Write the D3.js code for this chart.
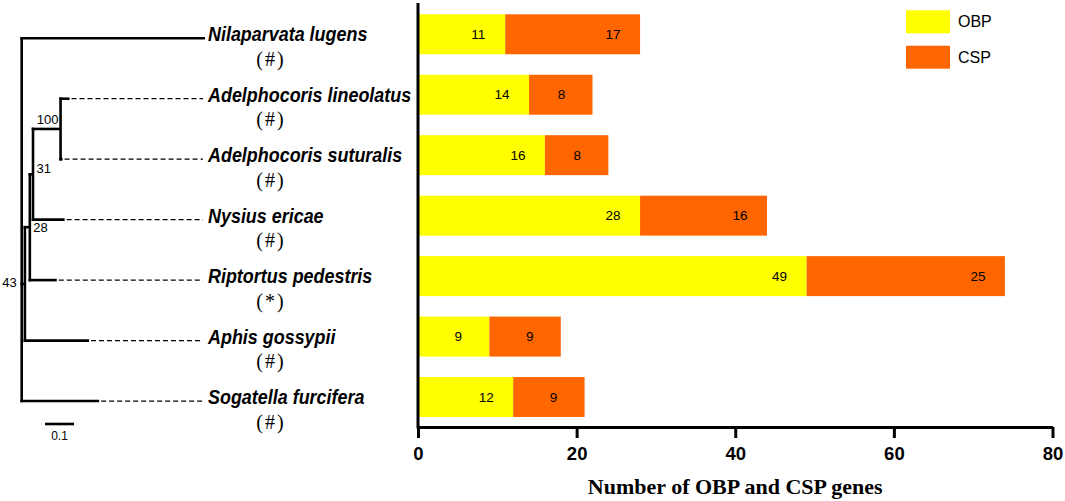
<!DOCTYPE html>
<html>
<head>
<meta charset="utf-8">
<script src="https://cdn.jsdelivr.net/npm/d3@7"></script>
<style>
  body { margin: 0; background: #fff; }
  svg { display: block; }
</style>
</head>
<body>
<div id="chart"></div>
<script>
// species top to bottom, with the mark shown under each name
var species = ["Nilaparvata lugens", "Adelphocoris lineolatus", "Adelphocoris suturalis",
  "Nysius ericae", "Riptortus pedestris", "Aphis gossypii", "Sogatella furcifera"];
var speciesMarks = ["#", "#", "#", "#", "*", "#", "#"];

// gene counts
var obpCounts = [11, 14, 16, 28, 49, 9, 12];
var cspCounts = [17, 8, 8, 16, 25, 9, 9];
var seriesNames = ["OBP", "CSP"];
var xTicks = [0, 20, 40, 60, 80];

// tree: parent links, branch lengths, bootstrap support
var treeIds = ["root", "Nilaparvata lugens", "n43", "Aphis gossypii", "n28", "Riptortus pedestris",
  "n31", "Nysius ericae", "n100", "Adelphocoris lineolatus", "Adelphocoris suturalis", "Sogatella furcifera"];
var treeParents = ["", "root", "root", "n43", "n43", "n28", "n28", "n31", "n31", "n100", "n100", "root"];
var branchLengths = [0, 0.632, 0.011, 0.221, 0.017, 0.093, 0.011, 0.109, 0.095, 0.031, 0.007, 0.267];
var supportValues = [null, null, 43, null, 28, null, 31, null, 100, null, null, null];

var svgWidth = 1065;
var svgHeight = 501;

var svg = d3.select("#chart")
  .append("svg")
  .attr("width", svgWidth)
  .attr("height", svgHeight);

var colors = d3.scaleOrdinal()
  .domain(seriesNames)
  .range(["#ffff00", "#ff6600"]);

// scales
var xScale = d3.scaleLinear()
  .domain([0, 80])
  .range([418, 1052.5]);

var yScale = d3.scaleBand()
  .domain(species)
  .range([4, 427.3])
  .paddingInner(0.339)
  .paddingOuter(0.17);

var treeX = d3.scaleLinear()
  .domain([0, 1])
  .range([21.7, 311.7]);

// stacked bars
var rows = species.map(function(s, i) {
  return { species: s, OBP: obpCounts[i], CSP: cspCounts[i] };
});
var stacked = d3.stack().keys(seriesNames)(rows);

var layers = svg.selectAll(".layer")
  .data(stacked)
  .enter()
  .append("g")
  .attr("class", "layer")
  .attr("fill", function(d) { return colors(d.key); });

layers.selectAll("rect")
  .data(function(d) { return d; })
  .enter()
  .append("rect")
  .attr("x", function(d) { return xScale(d[0]); })
  .attr("y", function(d) { return yScale(d.data.species); })
  .attr("width", function(d) { return xScale(d[1]) - xScale(d[0]); })
  .attr("height", yScale.bandwidth());

layers.selectAll("text")
  .data(function(d) { return d; })
  .enter()
  .append("text")
  .attr("x", function(d) {
    var v = d[1] - d[0];
    return xScale(d[1]) - (v < 10 ? 31 : 27);
  })
  .attr("y", function(d) { return yScale(d.data.species) + yScale.bandwidth() / 2; })
  .attr("dy", "0.35em")
  .attr("text-anchor", "middle")
  .attr("fill", "#000")
  .style("font-family", "Liberation Sans, Arial, sans-serif")
  .style("font-size", "13.5px")
  .text(function(d) { return d[1] - d[0]; });

// axes
var bottomAxis = d3.axisBottom(xScale)
  .tickValues(xTicks)
  .tickSize(11)
  .tickPadding(9)
  .tickSizeOuter(0);

var xAxisG = svg.append("g")
  .attr("transform", "translate(0, 427)")
  .call(bottomAxis);

xAxisG.select(".domain").attr("stroke-width", 3).attr("stroke", "#000");
xAxisG.selectAll(".tick line").attr("stroke-width", 3).attr("stroke", "#000");
xAxisG.selectAll(".tick text")
  .attr("fill", "#000")
  .style("font-family", "Liberation Sans, Arial, sans-serif")
  .style("font-weight", "bold")
  .style("font-size", "18.5px");

svg.append("line")
  .attr("x1", xScale(0)).attr("x2", xScale(0))
  .attr("y1", 3).attr("y2", 428.5)
  .attr("stroke", "#000")
  .attr("stroke-width", 3);

svg.append("text")
  .attr("x", (xScale(0) + xScale(80)) / 2)
  .attr("y", 494)
  .attr("text-anchor", "middle")
  .style("font-family", "Liberation Serif, Times New Roman, serif")
  .style("font-weight", "bold")
  .style("font-size", "22px")
  .text("Number of OBP and CSP genes");

// legend
var legend = svg.selectAll(".legend")
  .data(seriesNames)
  .enter()
  .append("g")
  .attr("class", "legend")
  .attr("transform", function(d, i) { return "translate(906, " + (10.3 + i * 35.4) + ")"; });

legend.append("rect")
  .attr("width", 44)
  .attr("height", 23)
  .attr("fill", function(d) { return colors(d); });

legend.append("text")
  .attr("x", 52)
  .attr("y", 11.5)
  .attr("dy", "0.35em")
  .style("font-family", "Liberation Sans, Arial, sans-serif")
  .style("font-size", "16px")
  .text(function(d) { return d; });

// tree
var root = d3.stratify()
  .id(function(d) { return d.id; })
  .parentId(function(d) { return d.parent || null; })(
    treeIds.map(function(id, i) {
      return { id: id, parent: treeParents[i], len: branchLengths[i], support: supportValues[i] };
    })
  );

root.eachBefore(function(n) {
  n.depthLen = (n.parent ? n.parent.depthLen : 0) + n.data.len;
  n.px = treeX(n.depthLen);
});
root.eachAfter(function(n) {
  if (!n.children) {
    n.py = yScale(n.id) + yScale.bandwidth() / 2 + 4;
  } else {
    var ys = n.children.map(function(c) { return c.py; });
    n.py = (d3.min(ys) + d3.max(ys)) / 2;
  }
});

var treeG = svg.append("g")
  .attr("stroke", "#000")
  .attr("stroke-width", 2.6)
  .attr("fill", "none");

// horizontal branches
treeG.selectAll(".hbranch")
  .data(root.descendants().filter(function(n) { return n.parent; }))
  .enter()
  .append("line")
  .attr("class", "hbranch")
  .attr("x1", function(n) { return n.parent.px - 1.3; })
  .attr("x2", function(n) { return n.px; })
  .attr("y1", function(n) { return n.py; })
  .attr("y2", function(n) { return n.py; });

// vertical connectors
treeG.selectAll(".vbranch")
  .data(root.descendants().filter(function(n) { return n.children; }))
  .enter()
  .append("line")
  .attr("class", "vbranch")
  .attr("x1", function(n) { return n.px; })
  .attr("x2", function(n) { return n.px; })
  .attr("y1", function(n) { return d3.min(n.children, function(c) { return c.py; }) - 1.3; })
  .attr("y2", function(n) { return d3.max(n.children, function(c) { return c.py; }) + 1.3; });

// dashed leaders to the names
var leaves = root.leaves();
svg.selectAll(".leader")
  .data(leaves.filter(function(n) { return n.px < 200; }))
  .enter()
  .append("line")
  .attr("class", "leader")
  .attr("x1", function(n) { return n.px + 2; })
  .attr("x2", 203)
  .attr("y1", function(n) { return n.py; })
  .attr("y2", function(n) { return n.py; })
  .attr("stroke", "#000")
  .attr("stroke-width", 1.3)
  .attr("stroke-dasharray", "5,3");

// support values
svg.selectAll(".support")
  .data(root.descendants().filter(function(n) { return n.data.support != null; }))
  .enter()
  .append("text")
  .attr("class", "support")
  .attr("x", function(n) {
    if (n.id === "n100") return n.px - 2;
    if (n.id === "n43") return n.parent.px - 5;
    return n.px + 3.5;
  })
  .attr("y", function(n) {
    if (n.id === "n100") return n.py - 5;
    if (n.id === "n43") return n.py + 3.5;
    if (n.id === "n28") return n.py + 4.5;
    return n.py - 1.5;
  })
  .attr("text-anchor", function(n) { return (n.id === "n100" || n.id === "n43") ? "end" : "start"; })
  .style("font-family", "Liberation Sans, Arial, sans-serif")
  .style("font-size", "13px")
  .text(function(n) { return n.data.support; });

// species names and marks
var labels = svg.selectAll(".species")
  .data(species)
  .enter()
  .append("g")
  .attr("class", "species");

labels.append("text")
  .attr("transform", function(d) {
    return "translate(208," + (yScale(d) + yScale.bandwidth() / 2 + 7) + ") scale(0.92,1)";
  })
  .style("font-family", "Liberation Sans, Arial, sans-serif")
  .style("font-weight", "bold")
  .style("font-style", "italic")
  .style("font-size", "19.5px")
  .text(function(d) { return d; });

labels.append("text")
  .attr("x", 271)
  .attr("y", function(d) { return yScale(d) + yScale.bandwidth() / 2 + 31.5; })
  .attr("text-anchor", "middle")
  .style("letter-spacing", "2px")
  .style("font-family", "Liberation Serif, Times New Roman, serif")
  .style("font-size", "20px")
  .text(function(d, i) { return "(" + speciesMarks[i] + ")"; });

// scale bar
svg.append("line")
  .attr("x1", 45)
  .attr("x2", 45 + treeX(0.1) - treeX(0))
  .attr("y1", 424).attr("y2", 424)
  .attr("stroke", "#000")
  .attr("stroke-width", 2.6);

svg.append("text")
  .attr("x", 45 + (treeX(0.1) - treeX(0)) / 2)
  .attr("y", 440)
  .attr("text-anchor", "middle")
  .style("font-family", "Liberation Sans, Arial, sans-serif")
  .style("font-size", "12px")
  .text("0.1");
</script>
</body>
</html>
